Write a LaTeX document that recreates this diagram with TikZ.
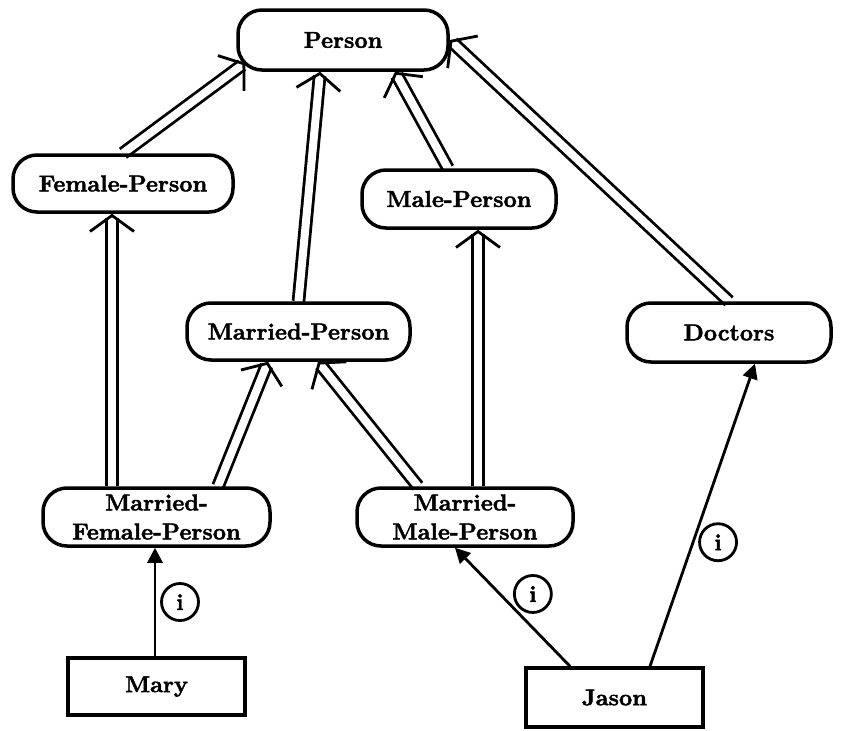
\documentclass[tikz,border=0pt]{standalone}
\usepackage{fontspec}
\usetikzlibrary{arrows.meta}
\newfontfamily\labelfont{lmroman10-bold.otf}[FakeBold=1.8]
\pgfdeclarelayer{links}
\pgfsetlayers{links,main}
\begin{document}
\begin{tikzpicture}[x=1pt,y=-1pt,
  concept/.style={draw, line width=3.5pt, rounded corners=24pt, inner sep=0pt,
    font=\fontsize{23}{29}\selectfont\labelfont, align=center},
  indiv/.style={draw, line width=3.5pt, inner sep=0pt,
    font=\fontsize{23}{29}\selectfont\labelfont},
  % double subsumption line ending in an open barb
  isa/.style={draw=white, line width=6pt,
    -{Straight Barb[color=black, length=16pt, width=44pt, line width=2.8pt]},
    preaction={draw=black, -, line width=2.8pt, double=white,
      double distance=8pt, shorten >=4pt}},
  inst/.style={line width=2.8pt, -{Triangle[length=15pt,width=15pt]}},
  icirc/.style={draw, circle, fill=white, line width=2.8pt, minimum size=37pt,
    inner sep=0pt, font=\fontsize{23}{23}\selectfont\labelfont}
]
\useasboundingbox (0,0) rectangle (841,731);

% concepts
\node[concept, minimum width=210, minimum height=60] (person) at (343,40) {Person};
\node[concept, minimum width=220, minimum height=57] (fp) at (123,183.5) {Female-Person};
\node[concept, minimum width=194, minimum height=58] (mp) at (459,199) {Male-Person};
\node[concept, minimum width=223, minimum height=57] (marp) at (298.5,331.5) {Married-Person};
\node[concept, minimum width=204, minimum height=59] (doc) at (729,332.5) {Doctors};
\node[concept, minimum width=227, minimum height=58] (mfp) at (156.5,517) {Married-\\Female-Person};
\node[concept, minimum width=216, minimum height=58] (mmp) at (465,517) {Married-\\Male-Person};

% individuals
\node[indiv, minimum width=177, minimum height=57] (mary) at (156.5,686.5) {Mary};
\node[indiv, minimum width=177, minimum height=59] (jason) at (614.5,697.5) {Jason};

\begin{pgfonlayer}{links}
% subsumption links
\draw[isa] (fp.north) -- ([shift={(9,-9)}]person.south west);
\draw[isa] (marp.north) -- ([xshift=-23pt]person.south);
\draw[isa] ([xshift=-11pt]mp.north) -- ([xshift=52pt]person.south);
\draw[isa] (doc.north) -- (person.east);
\draw[isa] ([xshift=-44.5pt]mfp.north) -- ([xshift=-44.5pt]mfp.north |- fp.south);
\draw[isa] ([xshift=61.5pt]mfp.north) -- ([xshift=-30.5pt]marp.south);
\draw[isa] ([xshift=-47pt]mmp.north) -- ([xshift=19.5pt]marp.south);
\draw[isa] ([xshift=13pt]mmp.north) -- ([xshift=13pt]mmp.north |- mp.south);

% instance links
\draw[inst] ([xshift=-1.5pt]mary.north) -- ([xshift=-1.5pt]mfp.south)
  node[icirc, pos=0.5, xshift=25pt] (i1) {i};
\draw[inst] ([xshift=-44.5pt]jason.north) -- ([xshift=-10pt]mmp.south)
  node[icirc, pos=0.61, xshift=33pt] (i2) {i};
\draw[inst] ([xshift=35.5pt]jason.north) -- ([xshift=26pt]doc.south)
  node[icirc, pos=0.41, xshift=25pt] (i3) {i};
\end{pgfonlayer}
\end{tikzpicture}
\end{document}
